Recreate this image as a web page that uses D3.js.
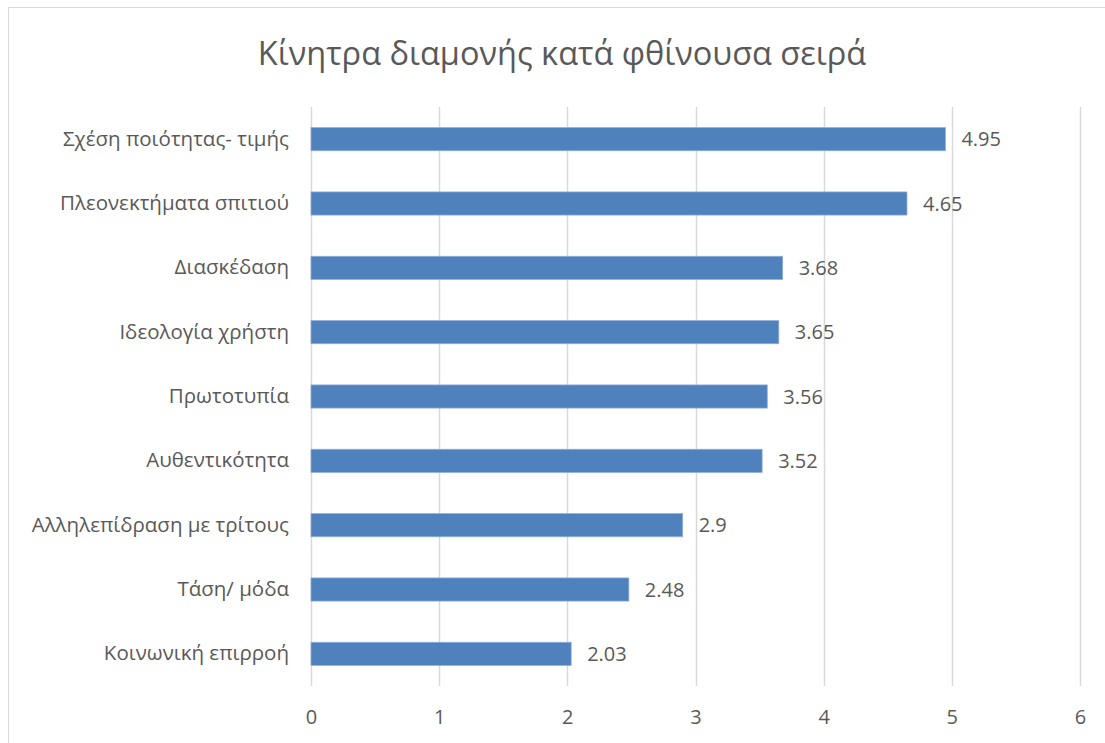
<!DOCTYPE html>
<html>
<head>
<meta charset="utf-8">
<script src="https://cdn.jsdelivr.net/npm/d3@7"></script>
<style>
  body { margin: 0; background: #fff; }
  text { font-family: "Open Sans", "Noto Sans", sans-serif; fill: #595959; }
</style>
</head>
<body>
<div id="chart"></div>
<script>
// data, top to bottom
const categories = [
    'Σχέση ποιότητας- τιμής',
    'Πλεονεκτήματα σπιτιού',
    'Διασκέδαση',
    'Ιδεολογία χρήστη',
    'Πρωτοτυπία',
    'Αυθεντικότητα',
    'Αλληλεπίδραση με τρίτους',
    'Τάση/ μόδα',
    'Κοινωνική επιρροή'
];
const values = [4.95, 4.65, 3.68, 3.65, 3.56, 3.52, 2.9, 2.48, 2.03];
const xTicks = [0, 1, 2, 3, 4, 5, 6];
const title = 'Κίνητρα διαμονής κατά φθίνουσα σειρά';

const width = 1105, height = 743;
const plot = { left: 311, right: 1080, top: 107, bottom: 686 };

const svg = d3.select('#chart')
    .append('svg')
    .attr('width', width)
    .attr('height', height);

// chart area outline
svg.append('rect')
    .attr('x', 8.5)
    .attr('y', 7.5)
    .attr('width', width + 10)
    .attr('height', height + 10)
    .attr('fill', 'none')
    .attr('stroke', '#d9d9d9')
    .attr('stroke-width', 1);

const x = d3.scaleLinear()
    .domain([0, 6])
    .range([plot.left, plot.right]);

const y = d3.scaleBand()
    .domain(categories)
    .range([plot.top, plot.bottom])
    .paddingInner(0.64)
    .paddingOuter(0.32);

// gridlines
svg.append('g')
    .selectAll('line')
    .data(xTicks)
    .enter()
    .append('line')
    .attr('x1', d => Math.round(x(d)) + 0.5)
    .attr('x2', d => Math.round(x(d)) + 0.5)
    .attr('y1', plot.top)
    .attr('y2', plot.bottom)
    .attr('stroke', '#d9d9d9')
    .attr('stroke-width', 1.5);

// x axis labels (no domain line)
const xAxis = svg.append('g')
    .attr('transform', `translate(0,${plot.bottom})`)
    .call(d3.axisBottom(x).tickValues(xTicks).tickSize(0).tickPadding(24).tickFormat(d3.format('d')));
xAxis.select('.domain').remove();
xAxis.selectAll('text')
    .style('font-size', '20px')
    .style('font-family', '"Open Sans", "Noto Sans", sans-serif')
    .attr('fill', '#595959');

// category labels
const yAxis = svg.append('g')
    .attr('transform', `translate(${plot.left},0)`)
    .call(d3.axisLeft(y).tickSize(0).tickPadding(22));
yAxis.select('.domain').remove();
yAxis.selectAll('text')
    .style('font-size', '20.5px')
    .style('font-family', '"Open Sans", "Noto Sans", sans-serif')
    .attr('fill', '#595959');

// bars
svg.append('g')
    .selectAll('rect')
    .data(values)
    .enter()
    .append('rect')
    .attr('x', x(0))
    .attr('y', (d, i) => y(categories[i]))
    .attr('width', d => x(d) - x(0))
    .attr('height', y.bandwidth())
    .attr('fill', '#4f81bd')
    .attr('stroke', '#8eaedb')
    .attr('stroke-width', 0.75);

// value labels
svg.append('g')
    .selectAll('text')
    .data(values)
    .enter()
    .append('text')
    .attr('x', d => x(d) + 16)
    .attr('y', (d, i) => y(categories[i]) + y.bandwidth() / 2)
    .attr('dy', '0.35em')
    .style('font-size', '20px')
    .text(d => d);

// title
svg.append('text')
    .attr('x', 562)
    .attr('y', 65)
    .attr('text-anchor', 'middle')
    .style('font-size', '32.5px')
    .text(title);
</script>
</body>
</html>
